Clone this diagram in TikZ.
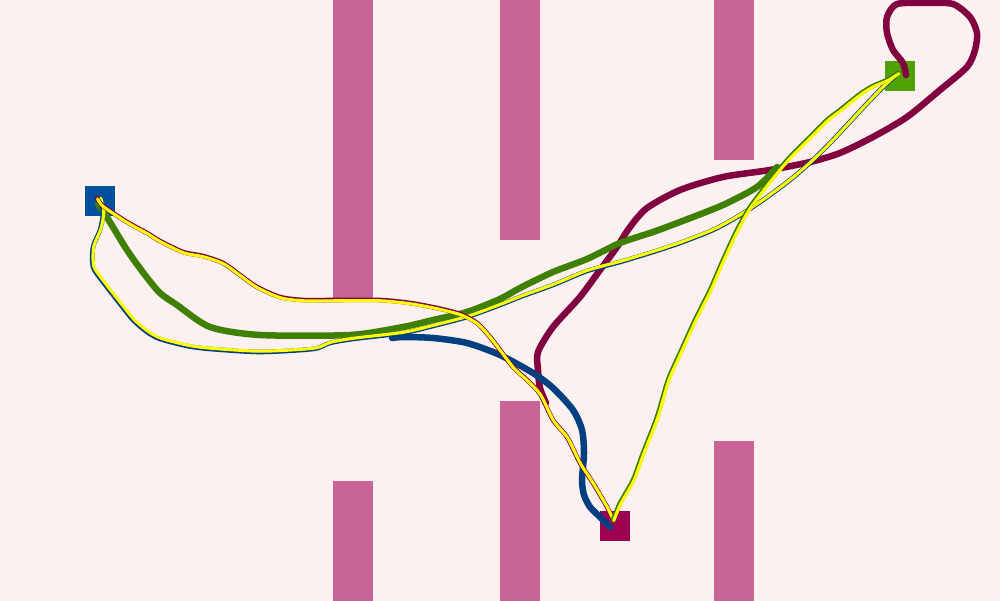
\documentclass[tikz,border=0pt]{standalone}
\definecolor{bg}{HTML}{FDF0F0}
\definecolor{bar}{HTML}{C86496}
\definecolor{sqblue}{HTML}{0050A0}
\definecolor{sqgreen}{HTML}{50A000}
\definecolor{sqmag}{HTML}{A00050}
\definecolor{dblue}{HTML}{004080}
\definecolor{dgreen}{HTML}{408000}
\definecolor{dmag}{HTML}{800040}
\definecolor{yel}{HTML}{FFFF00}
\begin{document}
\begin{tikzpicture}[x=1pt,y=-1pt,
  sq/.style={minimum size=30pt,inner sep=0pt,outer sep=0pt,draw=none},
  thickpath/.style={line width=6.5pt,line join=round,line cap=round},
  thinpath/.style={line width=4.6pt,line join=round,line cap=round},
  yelpath/.style={yel,line width=3.1pt,line join=round,line cap=round},
  wall/.style={fill=bar}]
\useasboundingbox (0,0) rectangle (1000,601);
\fill[bg] (0,0) rectangle (1000,601);
% walls
\fill[wall] (333,0) rectangle (373,298);
\fill[wall] (500,0) rectangle (540,240);
\fill[wall] (714,0) rectangle (754,160);
\fill[wall] (333,481) rectangle (373,601);
\fill[wall] (500,401) rectangle (540,601);
\fill[wall] (714,441) rectangle (754,601);
% squares
\node[sq,fill=sqblue] (bsq) at (100,201) {};
\node[sq,fill=sqgreen] (gsq) at (900,76) {};
\node[sq,fill=sqmag] (msq) at (615,526) {};
% thick paths
\draw[thickpath,dmag] plot[smooth,tension=0.45] coordinates {(906,75) (903,63) (893,50) (887,33) (887,17) (897,4) (927,3) (953,4) (970,17) (977,33) (975,50) (967,67) (940,90) (907,117) (873,137) (840,153) (810,162) (770,170) (723,177) (680,190) (647,208) (630,227) (617,247) (600,270) (580,297) (553,327) (538,352) (538,370) (540,388) (546,403)};
\draw[thickpath,dblue] plot[smooth,tension=0.45] coordinates {(392,338) (403,337) (433,338) (467,343) (500,355) (533,373) (553,388) (573,410) (582,430) (584,453) (582,480) (584,495) (590,507) (600,517) (610,527)};
\draw[thickpath,dgreen] plot[smooth,tension=0.45] coordinates {(98,204) (105,214) (127,250) (145,275) (160,293) (177,305) (210,327) (260,335) (350,335) (403,327) (433,320) (467,312) (500,299) (520,288) (553,272) (587,259) (620,243) (653,232) (680,222) (723,205) (757,187) (777,167)};
% thin planned paths
\draw[thinpath,dblue] plot[smooth,tension=0.45] coordinates {(100,199) (103,213) (100,230) (93,247) (93,267) (103,282) (117,300) (133,320) (147,332) (160,339) (187,346) (210,349) (260,352) (313,349) (330,343) (353,339) (403,333) (433,326) (467,317) (500,305) (520,297) (553,285) (587,271) (620,262) (653,252) (680,243) (713,230) (737,217) (763,200) (790,180) (813,160) (833,140) (860,111) (880,90) (896,75)};
\draw[yelpath,shift={(0.8,-0.8)}] plot[smooth,tension=0.45] coordinates {(100,199) (103,213) (100,230) (93,247) (93,267) (103,282) (117,300) (133,320) (147,332) (160,339) (187,346) (210,349) (260,352) (313,349) (330,343) (353,339) (403,333) (433,326) (467,317) (500,305) (520,297) (553,285) (587,271) (620,262) (653,252) (680,243) (713,230) (737,217) (763,200) (790,180) (813,160) (833,140) (860,111) (880,90) (896,75)};
\draw[thinpath,dmag] plot[smooth,tension=0.45] coordinates {(97,198) (103,206) (127,222) (147,233) (160,241) (183,252) (203,256) (223,263) (240,275) (257,287) (280,297) (303,300) (333,300) (380,300) (410,303) (437,308) (460,314) (477,323) (490,337) (500,350) (513,367) (527,380) (540,394) (553,420) (567,437) (580,463) (593,483) (607,507) (613,520)};
\draw[yelpath,shift={(0.6,0.8)}] plot[smooth,tension=0.45] coordinates {(97,198) (103,206) (127,222) (147,233) (160,241) (183,252) (203,256) (223,263) (240,275) (257,287) (280,297) (303,300) (333,300) (380,300) (410,303) (437,308) (460,314) (477,323) (490,337) (500,350) (513,367) (527,380) (540,394) (553,420) (567,437) (580,463) (593,483) (607,507) (613,520)};
\draw[thinpath,dgreen] plot[smooth,tension=0.45] coordinates {(613,520) (620,503) (633,480) (643,453) (657,417) (668,380) (680,353) (695,320) (710,290) (723,260) (737,230) (750,207) (773,177) (790,157) (810,137) (827,120) (840,110) (860,94) (873,86) (887,80) (898,73)};
\draw[yelpath,shift={(0.8,0.6)}] plot[smooth,tension=0.45] coordinates {(613,520) (620,503) (633,480) (643,453) (657,417) (668,380) (680,353) (695,320) (710,290) (723,260) (737,230) (750,207) (773,177) (790,157) (810,137) (827,120) (840,110) (860,94) (873,86) (887,80) (898,73)};
\end{tikzpicture}
\end{document}
